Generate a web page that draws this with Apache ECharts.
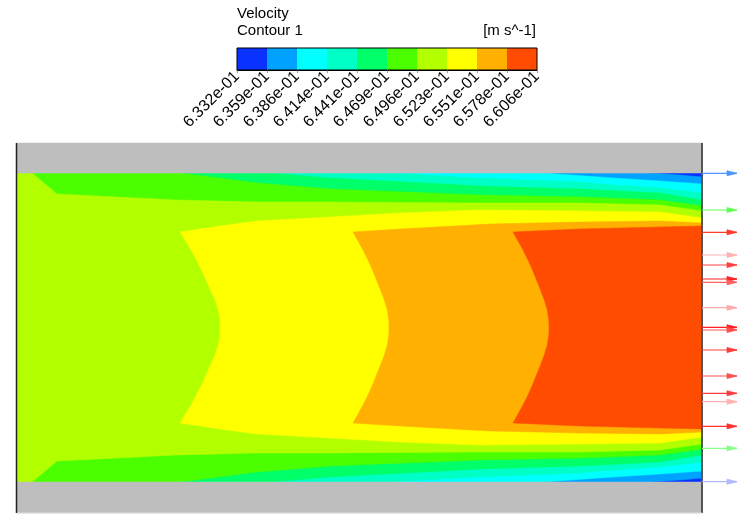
<!DOCTYPE html>
<html>
<head>
<meta charset="utf-8">
<script src="https://cdn.jsdelivr.net/npm/echarts@6/dist/echarts.min.js"></script>
<style>
html, body { margin: 0; padding: 0; background: #fff; }
#chart { width: 756px; height: 525px; }
</style>
</head>
<body>
<div id="chart"></div>
<script>
// Legenda de velocidade (10 faixas)
const tickLabels = ['6.332e-01', '6.359e-01', '6.386e-01', '6.414e-01', '6.441e-01',
    '6.469e-01', '6.496e-01', '6.523e-01', '6.551e-01', '6.578e-01', '6.606e-01'];
const bandColors = ['#0a32ff', '#00a2ff', '#00ffff', '#00ffc6', '#00ff68',
    '#4cff00', '#b2ff00', '#ffff00', '#ffb000', '#ff4c00'];

// Domínio (unidades = pixels da imagem exportada)
const domainX = [17, 702];
const wallTop = [143, 173];
const wallBottom = [482, 513];
const mirrorSum = 655;   // eixo de simetria do canal

// Contornos da metade superior (x, y); a metade inferior é espelhada
const edge1 = [[650, 173], [680, 175], [702, 177]];
const edge2 = [[543, 173], [613, 178], [660, 181], [702, 184]];
const edge3 = [[385, 173], [480, 178], [580, 182], [613, 185], [660, 188], [702, 193]];
const edge4 = [[270, 173], [330, 178], [480, 186], [580, 189], [660, 193], [702, 200]];
const edge5 = [[180, 173], [257, 183], [330, 189], [480, 195], [580, 197], [660, 200], [702, 206]];
const edge6 = [[32, 173], [57, 194], [177, 200], [257, 202], [330, 202], [480, 203], [580, 203], [660, 205], [702, 211]];
const edge7 = [[180, 232], [220, 226], [257, 221], [330, 217], [400, 213], [480, 210], [580, 211], [660, 212], [702, 218]];
const edge8 = [[353, 232], [400, 229], [490, 224], [580, 222], [660, 221], [702, 223]];
const edge9 = [[513, 232], [580, 229], [660, 227], [702, 226]];

// Frentes do núcleo (do contorno superior até a linha central)
const front7 = [[180, 232], [185, 240], [191, 250], [196.5, 260], [201.5, 270], [206, 280], [210.5, 290],
    [215, 300], [218.3, 310], [219.8, 320], [220, 327.5]];
const front8 = [[353, 232], [357.5, 240], [363, 250], [368, 260], [372.5, 270], [376.5, 280], [380.5, 290],
    [384.3, 300], [387.3, 310], [388.8, 320], [389, 327.5]];
const front9 = [[513, 232], [517.5, 240], [523, 250], [528, 260], [532.5, 270], [536.5, 280], [540.5, 290],
    [544.3, 300], [547.3, 310], [548.8, 320], [549, 327.5]];

// Vetores na saída
const arrowY = [173.3, 210, 232.3, 255, 265, 279, 282.3, 307.7, 327.3, 330, 350, 376, 393.3, 401.7, 426.3, 448.3, 481.7];
const arrowColor = ['#4d94ff', '#66ff55', '#ff3a2a', '#ffb3b3', '#ff4040', '#ff2020', '#ff6060', '#ffaaaa',
    '#ff2020', '#ff5050', '#ff3a3a', '#ff5050', '#ff4040', '#ffb0b0', '#ff3030', '#88ff88', '#b0b8ff'];
const arrowLen = 35;

function espelhar(pts) {
    return pts.map(([x, y]) => [x, mirrorSum - y]);
}

// monta as regiões {v > nível}, pintadas em ordem crescente
const regioes = [];
const x0 = domainX[0], x1 = domainX[1];
regioes.push({ pts: [[x0, wallTop[1]], [x1, wallTop[1]], [x1, wallBottom[0]], [x0, wallBottom[0]]], color: bandColors[0] });
[edge1, edge2, edge3, edge4, edge5, edge6].forEach((e, i) => {
    const pts = [[x0, wallTop[1]]].concat(e, espelhar(e).reverse(), [[x0, wallBottom[0]]]);
    regioes.push({ pts: pts, color: bandColors[i + 1] });
});
[[front7, edge7], [front8, edge8], [front9, edge9]].forEach(([f, e], i) => {
    const pts = f.concat(espelhar(f).reverse().slice(1))
        .concat(espelhar(e).slice(1))
        .concat(e.slice().reverse().slice(0, -1));
    regioes.push({ pts: pts, color: bandColors[i + 7] });
});
// paredes
regioes.push({ pts: [[x0, wallTop[0]], [x1, wallTop[0]], [x1, wallTop[1]], [x0, wallTop[1]]], color: '#bebebe' });
regioes.push({ pts: [[x0, wallBottom[0]], [x1, wallBottom[0]], [x1, wallBottom[1]], [x0, wallBottom[1]]], color: '#bebebe' });

const chart = echarts.init(document.getElementById('chart'));
const fonte = 'Liberation Sans, Arial, sans-serif';

const option = {
    animation: false,
    backgroundColor: '#fff',
    title: [
        {
            text: 'Velocity\nContour 1',
            left: 237, top: 5, padding: 0,
            textStyle: { fontSize: 15, fontWeight: 'normal', color: '#000', fontFamily: fonte, lineHeight: 17 }
        },
        {
            text: '[m s^-1]',
            right: 756 - 536, top: 22, padding: 0,
            textStyle: { fontSize: 15, fontWeight: 'normal', color: '#000', fontFamily: fonte, lineHeight: 17 }
        }
    ],
    grid: [
        { left: domainX[0], top: wallTop[0], width: domainX[1] - domainX[0], height: wallBottom[1] - wallTop[0] },
        { left: 237, top: 48, width: 300, height: 22 }
    ],
    xAxis: [
        { gridIndex: 0, type: 'value', min: domainX[0], max: domainX[1], show: false },
        {
            gridIndex: 1, type: 'value', min: 0, max: 10, interval: 1,
            axisLine: { show: true, lineStyle: { color: '#000', width: 1 } },
            axisTick: { show: true, length: 3, lineStyle: { color: '#999' } },
            splitLine: { show: false },
            axisLabel: {
                rotate: 45, margin: 4, fontSize: 16, color: '#000', fontFamily: fonte,
                showMinLabel: true, showMaxLabel: true,
                formatter: v => tickLabels[v]
            }
        }
    ],
    yAxis: [
        { gridIndex: 0, type: 'value', min: wallTop[0], max: wallBottom[1], inverse: true, show: false },
        { gridIndex: 1, type: 'value', min: 0, max: 1, show: false }
    ],
    series: [
        {
            type: 'custom',
            xAxisIndex: 0, yAxisIndex: 0,
            clip: false,
            data: regioes.map((r, i) => [i]),
            renderItem: (params, api) => {
                const r = regioes[params.dataIndex];
                return {
                    type: 'polygon',
                    shape: { points: r.pts.map(p => api.coord(p)) },
                    style: { fill: r.color, stroke: r.color, lineWidth: 0.5 }
                };
            }
        },
        {
            // bordas do domínio
            type: 'custom',
            xAxisIndex: 0, yAxisIndex: 0,
            clip: false,
            data: [[0]],
            renderItem: (params, api) => {
                const a = api.coord([x0, wallTop[0]]), b = api.coord([x0, wallBottom[1]]);
                const c = api.coord([x1, wallTop[0]]), d = api.coord([x1, wallBottom[1]]);
                return {
                    type: 'group',
                    children: [
                        { type: 'line', shape: { x1: a[0] - 0.5, y1: a[1], x2: b[0] - 0.5, y2: b[1] }, style: { stroke: '#222', lineWidth: 1.5 } },
                        { type: 'line', shape: { x1: c[0], y1: c[1], x2: d[0], y2: d[1] }, style: { stroke: '#555', lineWidth: 2 } },
                        { type: 'line', shape: { x1: b[0], y1: b[1], x2: d[0], y2: d[1] }, style: { stroke: '#e0e0e0', lineWidth: 1 } }
                    ]
                };
            }
        },
        {
            // vetores na saída
            type: 'custom',
            xAxisIndex: 0, yAxisIndex: 0,
            clip: false,
            data: arrowY.map((y, i) => [i]),
            renderItem: (params, api) => {
                const i = params.dataIndex;
                const p0 = api.coord([x1, arrowY[i]]);
                const p1 = api.coord([x1 + arrowLen, arrowY[i]]);
                const cor = arrowColor[i];
                return {
                    type: 'group',
                    children: [
                        { type: 'line', shape: { x1: p0[0], y1: p0[1], x2: p1[0], y2: p1[1] }, style: { stroke: cor, lineWidth: 1.2 } },
                        { type: 'polygon', shape: { points: [[p1[0] - 10, p1[1] - 2.5], [p1[0], p1[1]], [p1[0] - 10, p1[1] + 2.5]] }, style: { fill: cor, stroke: cor, lineWidth: 0.8 } }
                    ]
                };
            }
        },
        {
            // barra de cores
            type: 'custom',
            xAxisIndex: 1, yAxisIndex: 1,
            data: bandColors.map((c, i) => [i]),
            renderItem: (params, api) => {
                const i = params.dataIndex;
                const a = api.coord([i, 1]), b = api.coord([i + 1, 0]);
                return {
                    type: 'rect',
                    shape: { x: a[0], y: a[1], width: b[0] - a[0], height: b[1] - a[1] },
                    style: { fill: bandColors[i] }
                };
            }
        },
        {
            type: 'custom',
            xAxisIndex: 1, yAxisIndex: 1,
            data: [[0]],
            z: 5,
            renderItem: (params, api) => {
                const a = api.coord([0, 1]), b = api.coord([10, 0]);
                return {
                    type: 'rect',
                    shape: { x: a[0], y: a[1], width: b[0] - a[0], height: b[1] - a[1] },
                    style: { fill: 'none', stroke: '#000', lineWidth: 1 }
                };
            }
        }
    ]
};

chart.setOption(option);
</script>
</body>
</html>
